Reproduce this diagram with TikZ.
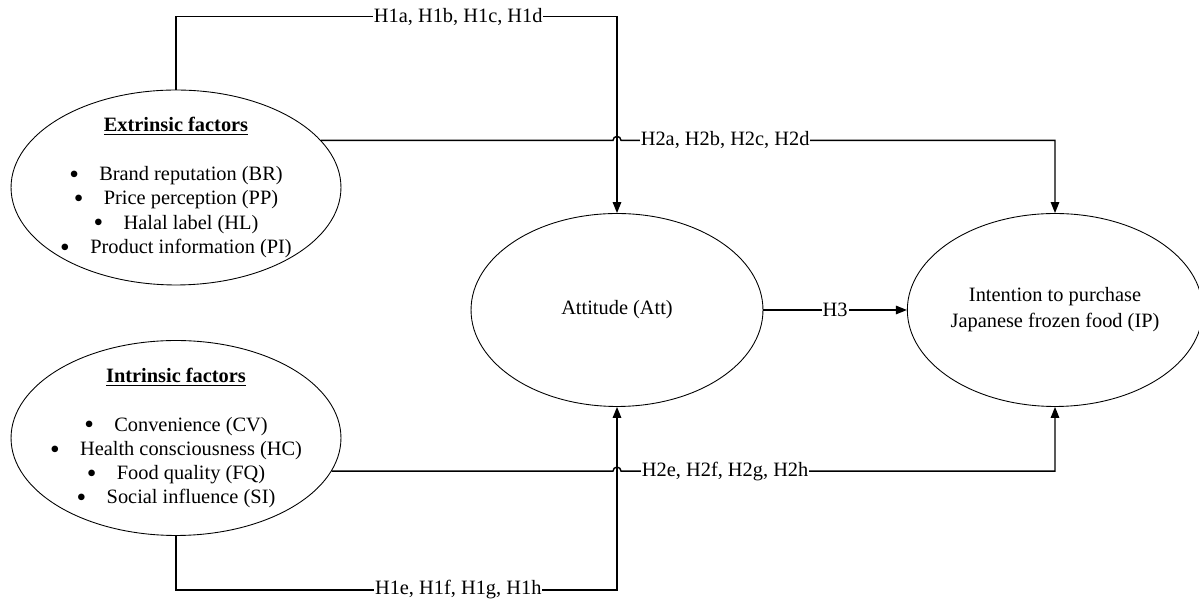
\documentclass[tikz,border=0pt]{standalone}
\usepackage{fontspec}
\setmainfont{Liberation Serif}
\usetikzlibrary{shapes.geometric, arrows.meta, positioning, calc}

\newcommand{\itembullet}{\raisebox{-0.3ex}{\scalebox{1.35}{\textbullet}}\hspace{1em}}

\begin{document}
\begin{tikzpicture}[
    x=0.02cm, y=0.02cm,
    >={Triangle[length=2.2mm, width=1.7mm]},
    font=\fontsize{11.6}{13.8}\selectfont,
    factor/.style    ={ellipse, draw, line width=0.5pt, align=center,
                       inner xsep=-20pt, inner ysep=-15pt,
                       minimum width=6.6cm, minimum height=3.9cm},
    construct/.style ={ellipse, draw, line width=0.5pt, align=center,
                       inner sep=0pt, minimum height=3.86cm},
    flow/.style      ={->, line width=0.8pt},
    hyp/.style       ={fill=white, inner xsep=0.5pt, inner ysep=1pt}
]
\useasboundingbox (0,0) rectangle (1199,604);

% =================== factor ellipses (left) ===================
\node[factor] (ext) at (176,416.5)
    {\underline{\textbf{Extrinsic factors}}\\[14pt]
     \itembullet Brand reputation (BR)\\
     \itembullet Price perception (PP)\\
     \itembullet Halal label (HL)\\
     \itembullet Product information (PI)};
\node[factor] (int) at (176,166)
    {\underline{\textbf{Intrinsic factors}}\\[14pt]
     \itembullet Convenience (CV)\\
     \itembullet Health consciousness (HC)\\
     \itembullet Food quality (FQ)\\
     \itembullet Social influence (SI)};

% =================== mediator and outcome ===================
\node[construct, minimum width=5.84cm] (att) at (617,294) {Attitude (Att)};
\node[construct, minimum width=5.74cm] (ip)  at (1055,294)
    {Intention to purchase\\[1pt]Japanese frozen food (IP)};

% --- H1: factors -> attitude ---
\draw[flow] (ext.north) -- ++(0,73) -| node[hyp, pos=0.32] {H1a, H1b, H1c, H1d} (att.north);
\draw[flow] (int.south) -- ++(0,-54) -| node[hyp, pos=0.32] {H1e, H1f, H1g, H1h} (att.south);

% --- H2: factors -> intention (hop over the H1 lines) ---
\draw[flow] (ext.18) -- ($(att.north |- ext.18)+(-4,0)$)
    arc[start angle=180, end angle=0, radius=4]
    -| node[hyp, pos=0.12] {H2a, H2b, H2c, H2d} (ip.north);
\draw[flow] (int.-12) -- ($(att.south |- int.-12)+(-4,0)$)
    arc[start angle=180, end angle=0, radius=4]
    -| node[hyp, pos=0.12] {H2e, H2f, H2g, H2h} (ip.south);

% --- H3: attitude -> intention ---
\draw[flow] (att.east) -- node[hyp] {H3} (ip.west);

\end{tikzpicture}
\end{document}
